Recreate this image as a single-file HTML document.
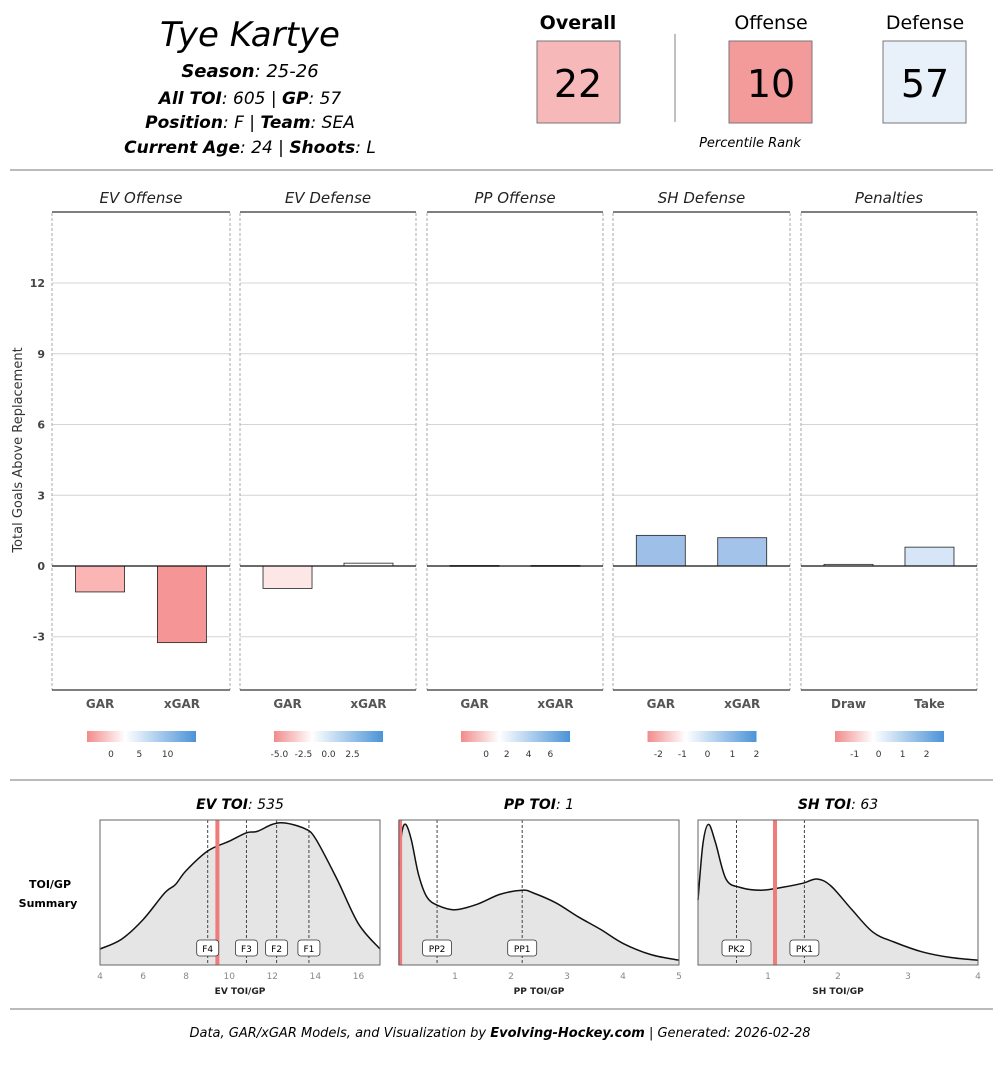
<!DOCTYPE html>
<html><head><meta charset="utf-8"><style>
body{margin:0;background:#fff;width:1000px;height:1062px;overflow:hidden;font-family:"Liberation Sans","DejaVu Sans",sans-serif}
svg text{font-family:"DejaVu Sans","Liberation Sans",sans-serif}
</style></head><body>
<svg id="c" width="1000" height="1062" viewBox="0 0 1000 1062" xmlns="http://www.w3.org/2000/svg">
<g>
<text x="250" y="46" text-anchor="middle" font-size="34" font-style="italic">Tye Kartye</text>
<text x="250" y="77" text-anchor="middle" font-size="18" font-style="italic"><tspan font-weight="bold">Season</tspan>: 25-26</text>
<text x="250" y="104" text-anchor="middle" font-size="17" font-style="italic"><tspan font-weight="bold">All TOI</tspan>: 605 | <tspan font-weight="bold">GP</tspan>: 57</text>
<text x="250" y="128" text-anchor="middle" font-size="17" font-style="italic"><tspan font-weight="bold">Position</tspan>: F | <tspan font-weight="bold">Team</tspan>: SEA</text>
<text x="250" y="153" text-anchor="middle" font-size="17" font-style="italic"><tspan font-weight="bold">Current Age</tspan>: 24 | <tspan font-weight="bold">Shoots</tspan>: L</text>
<text x="578" y="29" text-anchor="middle" font-size="19" font-weight="bold">Overall</text>
<rect x="537" y="41" width="83" height="82" fill="#f7b8b9" stroke="#777"/>
<text x="578" y="97" text-anchor="middle" font-size="38">22</text>
<line x1="675" y1="34" x2="675" y2="122" stroke="#aaa" stroke-width="1.5"/>
<text x="771" y="29" text-anchor="middle" font-size="19">Offense</text>
<rect x="729" y="41" width="83" height="82" fill="#f39a9b" stroke="#777"/>
<text x="771" y="97" text-anchor="middle" font-size="38">10</text>
<text x="925" y="29" text-anchor="middle" font-size="19">Defense</text>
<rect x="883" y="41" width="83" height="82" fill="#e8f0fa" stroke="#777"/>
<text x="925" y="97" text-anchor="middle" font-size="38">57</text>
<text x="750" y="147" text-anchor="middle" font-size="13" font-style="italic">Percentile Rank</text>
<line x1="10" y1="170" x2="993" y2="170" stroke="#777"/>
</g>
<g id="bars"></g>
<line x1="10" y1="780" x2="993" y2="780" stroke="#777"/>
<text x="50" y="888" text-anchor="middle" font-size="11" font-weight="bold">TOI/GP</text>
<text x="48" y="907" text-anchor="middle" font-size="11" font-weight="bold">Summary</text>
<g id="dens"></g>
<line x1="10" y1="1009" x2="993" y2="1009" stroke="#777"/>
<text x="500" y="1037" text-anchor="middle" font-size="13" font-style="italic">Data, GAR/xGAR Models, and Visualization by <tspan font-weight="bold">Evolving-Hockey.com</tspan> | Generated: 2026-02-28</text>
</svg>
<script>
const NS='http://www.w3.org/2000/svg';
const panelTitles=['EV Offense','EV Defense','PP Offense','SH Defense','Penalties'];
const panelCats=[['GAR','xGAR'],['GAR','xGAR'],['GAR','xGAR'],['GAR','xGAR'],['Draw','Take']];
const panelValues=[[-1.1,-3.25],[-0.95,0.12],[0.02,0.02],[1.3,1.2],[0.07,0.8]];
const panelColors=[['#fbb5b5','#f59596'],['#fde6e6','#ffffff'],['#eeeeee','#eeeeee'],['#9dbfe8','#a3c3ea'],['#f4f7fc','#d6e5f7']];
const yTicks=[-3,0,3,6,9,12];
const legendTicks=[['0','5','10'],['-5.0','-2.5','0.0','2.5'],['0','2','4','6'],['-2','-1','0','1','2'],['-1','0','1','2']];
const legendTickPos=[[0.22,0.48,0.74],[0.05,0.27,0.5,0.72],[0.23,0.42,0.62,0.82],[0.1,0.32,0.55,0.78,1.0],[0.18,0.4,0.62,0.84]];
function el(p,t,a){const e=document.createElementNS(NS,t);for(const k in a)e.setAttribute(k,a[k]);p.appendChild(e);return e;}
const px=[[52,230],[240,416],[427,603],[613,790],[801,977]];
const yTop=213,yBot=690;
const y=v=>566-v*23.58;
const B=document.getElementById('bars');
let at=el(B,'text',{x:22,y:450,'font-size':13,'text-anchor':'middle',transform:'rotate(-90 22 450)',fill:'#333'});


at.textContent='Total Goals Above Replacement';
yTicks.forEach(t=>{const tx=el(B,'text',{x:45,y:y(t)+4,'font-size':11,'font-weight':'bold','text-anchor':'end',fill:'#444'});


tx.textContent=t;});
const defs=el(B,'defs',{});
const gr=el(defs,'linearGradient',{id:'lg'});
[['0','#f28b8b'],['0.35','#ffffff'],['1','#4b93d8']].forEach(s=>el(gr,'stop',{offset:s[0],'stop-color':s[1]}));
panelTitles.forEach((title,i)=>{
 const [x0,x1]=px[i],w=x1-x0;
 const g=el(B,'g',{});
 
 
 yTicks.forEach(t=>{if(t!==0){const l=el(g,'line',{x1:x0,x2:x1,y1:y(t),y2:y(t),stroke:'#d4d4d4'});}});
 const tt=el(g,'text',{x:(x0+x1)/2,y:203,'font-size':15,'font-style':'italic','text-anchor':'middle',fill:'#222'});
 
 
 tt.textContent=title;
 el(g,'line',{x1:x0,x2:x1,y1:212,y2:212,stroke:'#555','stroke-width':1.5});
 el(g,'line',{x1:x0,x2:x0,y1:yTop,y2:yBot,stroke:'#aaa','stroke-dasharray':'3,2'});
 el(g,'line',{x1:x1,x2:x1,y1:yTop,y2:yBot,stroke:'#aaa','stroke-dasharray':'3,2'});
 el(g,'line',{x1:x0,x2:x1,y1:yBot,y2:yBot,stroke:'#555','stroke-width':1.5});
 panelValues[i].forEach((v,j)=>{
  const cx=x0+w*(j?0.73:0.27);
  const r=el(g,'rect',{x:cx-24.5,y:Math.min(y(v),y(0)),width:49,height:Math.max(Math.abs(y(v)-y(0)),0.8),fill:panelColors[i][j],stroke:'#222','stroke-width':0.8});
  
  
  const lb=el(g,'text',{x:cx,y:708,'font-size':12,'font-weight':'bold','text-anchor':'middle',fill:'#555'});
  
  
  lb.textContent=panelCats[i][j];
 });
 el(g,'line',{x1:x0,x2:x1,y1:y(0),y2:y(0),stroke:'#111','stroke-width':1.2});
 const lx=x0+w/2-54;
 const lr=el(g,'rect',{x:lx,y:731,width:109,height:11,fill:'url(#lg)'});
 
 
 legendTicks[i].forEach((t,k)=>{const tx=el(g,'text',{x:lx+109*legendTickPos[i][k],y:757,'font-size':9,'text-anchor':'middle',fill:'#333'});
 
 
 tx.textContent=t;});
});
// density plots
const evX=[4,5,6,7,7.5,8,9,10,10.8,11.3,12,12.6,13.5,14,15,16,17];
const evD=[0.1,0.17,0.31,0.5,0.56,0.66,0.8,0.87,0.93,0.94,0.99,1.0,0.96,0.89,0.6,0.28,0.1];
const ppX=[0,0.05,0.12,0.22,0.35,0.5,0.7,1.0,1.4,1.8,2.2,2.4,2.8,3.2,3.6,4,4.5,5];
const ppD=[0.7,0.93,0.99,0.88,0.63,0.47,0.41,0.38,0.42,0.49,0.52,0.5,0.43,0.33,0.24,0.14,0.06,0.02];
const shX=[0,0.07,0.15,0.25,0.4,0.6,0.9,1.2,1.5,1.7,1.9,2.2,2.5,2.8,3.2,3.6,4];
const shD=[0.45,0.85,0.99,0.86,0.6,0.54,0.52,0.54,0.57,0.6,0.55,0.38,0.22,0.15,0.08,0.04,0.02];
const plots=[
 {title:'EV TOI',total:'535',xs:evX,ds:evD,dom:[4,17],ticks:[4,6,8,10,12,14,16],tickLab:['4','6','8','10','12','14','16'],player:9.45,lines:[9.0,10.8,12.2,13.7],labels:['F4','F3','F2','F1'],axis:'EV TOI/GP',box:[100,380]},
 {title:'PP TOI',total:'1',xs:ppX,ds:ppD,dom:[0,5],ticks:[1,2,3,4,5],tickLab:['1','2','3','4','5'],player:0.02,lines:[0.68,2.2],labels:['PP2','PP1'],axis:'PP TOI/GP',box:[399,679]},
 {title:'SH TOI',total:'63',xs:shX,ds:shD,dom:[0,4],ticks:[1,2,3,4],tickLab:['1','2','3','4'],player:1.1,lines:[0.55,1.52],labels:['PK2','PK1'],axis:'SH TOI/GP',box:[698,978]}
];
const D=document.getElementById('dens');
const dTop=820,dBot=965,dBase=963,dHgt=140;
plots.forEach(p=>{
 const [bx0,bx1]=p.box;
 const sx=v=>bx0+(v-p.dom[0])/(p.dom[1]-p.dom[0])*(bx1-bx0);
 const sy=d=>dBase-d*dHgt;
 const g=el(D,'g',{});
 
 
 const t=el(g,'text',{x:(bx0+bx1)/2,y:809,'font-size':14,'font-style':'italic','text-anchor':'middle'});
 
 
 const tb=el(t,'tspan',{'font-weight':'bold'});
 tb.textContent=p.title;
 t.appendChild(document.createTextNode(': '+p.total));
 const pts=p.xs.map((v,k)=>[sx(v),sy(p.ds[k])]);
 let d='M'+pts[0][0]+','+pts[0][1];
 for(let k=0;k<pts.length-1;k++){const p0=pts[Math.max(k-1,0)],p1=pts[k],p2=pts[k+1],p3=pts[Math.min(k+2,pts.length-1)];
  d+=' C'+(p1[0]+(p2[0]-p0[0])/6)+','+(p1[1]+(p2[1]-p0[1])/6)+' '+(p2[0]-(p3[0]-p1[0])/6)+','+(p2[1]-(p3[1]-p1[1])/6)+' '+p2[0]+','+p2[1];}
 const f=el(g,'path',{d:d+' L'+pts[pts.length-1][0]+','+dBot+' L'+pts[0][0]+','+dBot+' Z',fill:'#e5e5e5'});
 
 
 p.lines.forEach((v,k)=>{const l=el(g,'line',{x1:sx(v),x2:sx(v),y1:dTop,y2:dBot,stroke:'#444','stroke-dasharray':'3,2'});
  
  });
 const c=el(g,'path',{d:d,fill:'none',stroke:'#111','stroke-width':1.5});
 
 
 const pl=el(g,'line',{x1:sx(p.player),x2:sx(p.player),y1:dTop,y2:dBot,stroke:'#ef7b7b','stroke-width':4});
 
 
 p.lines.forEach((v,k)=>{const w=p.labels[k].length*7+8;
  const r=el(g,'rect',{x:sx(v)-w/2,y:940,width:w,height:16,rx:3,fill:'#fff',stroke:'#333','stroke-width':0.8});
  
  
  const tx=el(g,'text',{x:sx(v),y:952,'font-size':9,'text-anchor':'middle'});
  
  
  tx.textContent=p.labels[k];});
 el(g,'rect',{x:bx0,y:dTop,width:bx1-bx0,height:dBot-dTop,fill:'none',stroke:'#666'});
 p.ticks.forEach((v,k)=>{const tx=el(g,'text',{x:sx(v),y:979,'font-size':9,'text-anchor':'middle',fill:'#888'});
  
  
  tx.textContent=p.tickLab[k];});
 const ax=el(g,'text',{x:(bx0+bx1)/2,y:994,'font-size':9,'font-weight':'bold','text-anchor':'middle',fill:'#222'});
 
 
 ax.textContent=p.axis;
});
</script>
</body></html>
